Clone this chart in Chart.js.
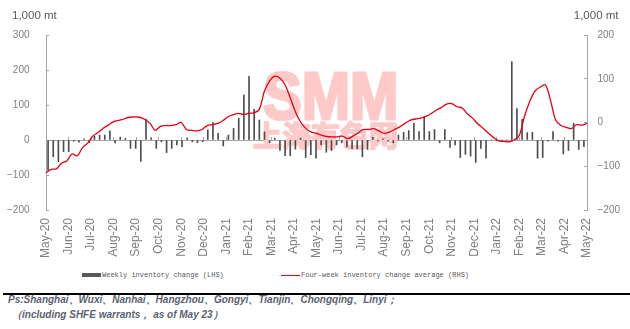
<!DOCTYPE html>
<html>
<head>
<meta charset="utf-8">
<script src="https://cdn.jsdelivr.net/npm/chart.js@4.4.0/dist/chart.umd.min.js"></script>
<style>
  html, body { margin: 0; padding: 0; background: #fff; }
  body { width: 630px; height: 329px; position: relative; overflow: hidden; font-family: 'Liberation Sans', Arial, sans-serif; }
  #wrap { position: absolute; left: 0; top: 0; width: 630px; height: 264px; }
  .leg { position: absolute; top: 270px; height: 10px; line-height: 10px; font-family: 'Liberation Mono', monospace; font-size: 7px; color: #595959; white-space: nowrap; }
  .swatch { position: absolute; }
  .rule { position: absolute; left: 3px; top: 293px; width: 627px; height: 1.5px; background: #000; }
  .note { position: absolute; font: italic bold 10px 'Liberation Sans', Arial, sans-serif; color: #5b6170; line-height: 14px; white-space: nowrap; }
</style>
</head>
<body>
<div id="wrap"><canvas id="stockChart"></canvas></div>

<div class="swatch" style="left:82px; top:273px; width:19px; height:4px; background:#595959;"></div>
<div class="leg" style="left:102px;">Weekly inventory change (LHS)</div>
<div class="swatch" style="left:281px; top:274.5px; width:19px; height:1.3px; background:#e60012;"></div>
<div class="leg" style="left:301px;">Four-week inventory change average (RHS)</div>

<div class="rule"></div>
<div class="note" style="left:8px; top:293px;">Ps:Shanghai、Wuxi、Nanhai、Hangzhou、Gongyi、Tianjin、Chongqing、Linyi；</div>
<div class="note" style="left:12px; top:308px;">（including SHFE warrants， as of May 23）</div>

<script>
// 週次の在庫変動（左軸, 1,000 mt）
const weeklyChange = [
  -86, -48, -62, -33, -33, -3, -6, 3, -8, 11,
  14, 14, 26, -8, 8, 5, -24, -24, -61, 60,
  6, -24, -5, -36, -24, -14, -19, 6, -5, -8,
  -5, 29, 50, 19, -17, 14, 33, 62, 128, 182,
  88, 57, 23, -8, 5, -30, -45, -45, -26, 5,
  -50, -42, -52, -14, -35, -30, -14, -8, -20, -25,
  -25, -48, -27, 8, -3, 3, -3, -8, 14, 22,
  27, 48, 24, 66, 24, 30, -8, 30, -21, -14,
  -50, -41, -46, -64, -24, -52, 0, 0, 0, 0,
  224, 90, 59, 21, 22, -52, -50, -3, 24, -3,
  -40, -30, 48, -27, -19
];

// 4週移動平均（右軸, 1,000 mt）
const fourWeekAvg = [
  -115, -107, -106, -93, -88, -72, -76, -58, -47, -31,
  -23, -13, -6, 2, 5, 8, 12, 13, 12, 7,
  -2, -18, -9, -7, -7, -5, 0, -16, -18, -19,
  -16, -7, -5, -2, 4, 13, 18, 21, 18, 21,
  22, 30, 72, 95, 106, 101, 85, 55, 23, 0,
  -14, -22, -25, -29, -32, -33, -33, -31, -37, -31,
  -24, -16, -16, -14, -19, -25, -22, -16, -10, -2,
  5, 8, 10, 14, 20, 28, 34, 42, 43, 36,
  33, 20, 10, -3, -13, -24, -34, -42, -43, -44,
  -40, -29, 15, 48, 72, 81, 86, 50, 5, -7,
  -11, -14, -5, -6, -2
];

// 月ラベル
const monthLabels = [
  'May-20', 'Jun-20', 'Jul-20', 'Aug-20', 'Sep-20', 'Oct-20', 'Nov-20', 'Dec-20',
  'Jan-21', 'Feb-21', 'Mar-21', 'Apr-21', 'May-21', 'Jun-21', 'Jul-21', 'Aug-21',
  'Sep-21', 'Oct-21', 'Nov-21', 'Dec-21', 'Jan-22', 'Feb-22', 'Mar-22', 'Apr-22', 'May-22'
];

// 週のカテゴリ（2020-05-25 から毎週）
const firstWeek = Date.UTC(2020, 4, 25);
const weekLabels = weeklyChange.map((_, i) =>
  new Date(firstWeek + i * 7 * 864e5).toISOString().slice(0, 10));

const axisGray = '#a6a6a6';
const tickGray = '#7f7f7f';
const markPink = '#fdc9c9';
const minus = v => (v < 0 ? '\u2212' + Math.abs(v) : String(v));
const monthTicks = s => { s.ticks = monthLabels.map((_, k) => ({ value: k })); };

// 単位表示と透かし
const decorations = {
  id: 'decorations',
  beforeDatasetsDraw(chart) {
    const ctx = chart.ctx;
    ctx.save();
    ctx.fillStyle = markPink;
    ctx.strokeStyle = markPink;
    ctx.lineWidth = 3;
    ctx.lineJoin = 'round';
    ctx.font = 'bold 66px "Liberation Sans", Arial, sans-serif';
    ctx.textBaseline = 'alphabetic';
    ctx.translate(263, 119);
    ctx.scale(0.88, 1);
    ctx.strokeText('SMM', 0, 0);
    ctx.fillText('SMM', 0, 0);
    ctx.restore();
    ctx.save();
    ctx.fillStyle = markPink;
    ctx.strokeStyle = markPink;
    ctx.lineWidth = 1.6;
    ctx.lineJoin = 'round';
    ctx.font = 'bold 29px "Noto Sans CJK SC", sans-serif';
    ctx.textBaseline = 'middle';
    ctx.strokeText('上海有色网', 253, 136);
    ctx.fillText('上海有色网', 253, 136);
    ctx.restore();
  },
  afterDraw(chart) {
    const ctx = chart.ctx;
    ctx.save();
    ctx.fillStyle = '#595959';
    ctx.font = '11.5px "Liberation Sans", Arial, sans-serif';
    ctx.textBaseline = 'alphabetic';
    ctx.textAlign = 'left';
    ctx.fillText('1,000 mt', 12, 19);
    ctx.textAlign = 'right';
    ctx.fillText('1,000 mt', 618.5, 19);
    ctx.restore();
  }
};

Chart.defaults.font.family = '"Liberation Sans", Arial, sans-serif';

new Chart(document.getElementById('stockChart'), {
  type: 'bar',
  data: {
    labels: weekLabels,
    datasets: [
      {
        label: 'Weekly inventory change (LHS)',
        data: weeklyChange,
        xAxisID: 'x',
        yAxisID: 'y',
        backgroundColor: '#4d4d4d',
        barThickness: 1,
        order: 2
      },
      {
        type: 'line',
        label: 'Four-week inventory change average (RHS)',
        data: fourWeekAvg,
        xAxisID: 'x2',
        yAxisID: 'y1',
        borderColor: '#e60012',
        borderWidth: 1.3,
        pointRadius: 0,
        tension: 0.35,
        fill: false,
        order: 1
      }
    ]
  },
  options: {
    responsive: true,
    maintainAspectRatio: false,
    animation: false,
    events: [],
    layout: { padding: { left: 5, right: 1, top: 35, bottom: 0 } },
    plugins: {
      legend: { display: false },
      tooltip: { enabled: false }
    },
    scales: {
      x: { type: 'category', display: false, offset: true },
      x2: { type: 'category', display: false, offset: false, grid: { offset: false } },
      xm: {
        type: 'linear', position: 'bottom', min: 0, max: 24, offset: false,
        afterBuildTicks: monthTicks,
        afterFit: s => { s.height = 54; },
        border: { display: false },
        grid: { display: false, drawTicks: false, offset: false },
        ticks: {
          autoSkip: false, maxRotation: 90, minRotation: 90, padding: 8,
          color: tickGray, font: { size: 12 },
          callback: v => monthLabels[v]
        }
      },
      xz: {
        type: 'linear', position: { y: 0 }, min: 0, max: 24, offset: false,
        afterBuildTicks: monthTicks,
        border: { color: axisGray, width: 1 },
        grid: { drawOnChartArea: false, drawTicks: true, tickLength: -4, color: axisGray, offset: false },
        ticks: { display: false }
      },
      y: {
        type: 'linear', position: 'left', min: -200, max: 300,
        afterFit: s => { s.width = 41; },
        border: { color: axisGray },
        grid: { drawOnChartArea: false, tickLength: -3, color: axisGray },
        ticks: { stepSize: 100, padding: 19.5, color: tickGray, font: { size: 10 }, callback: minus }
      },
      y1: {
        type: 'linear', position: 'right', min: -200, max: 200,
        afterFit: s => { s.width = 42; },
        border: { color: axisGray },
        grid: { drawOnChartArea: false, tickLength: -3, color: axisGray },
        ticks: { stepSize: 100, padding: 13.5, color: tickGray, font: { size: 10 }, callback: minus }
      }
    }
  },
  plugins: [decorations]
});
</script>
</body>
</html>
